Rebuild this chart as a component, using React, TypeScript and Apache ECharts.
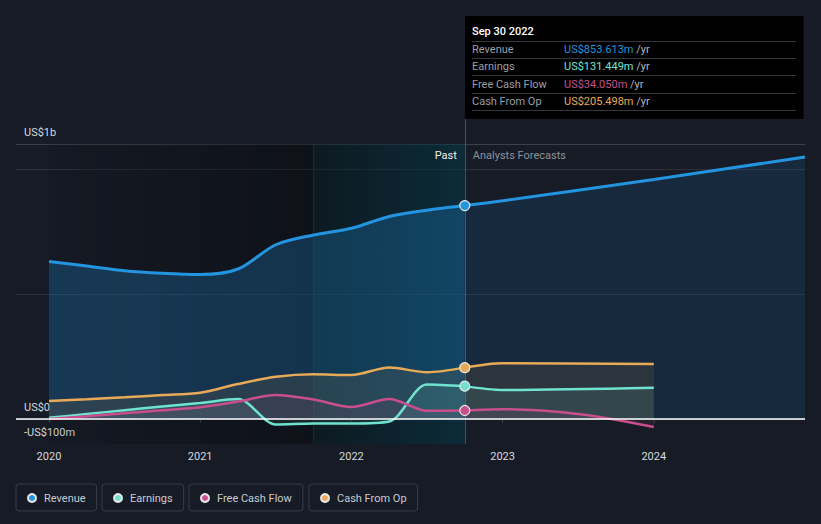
import React, { useEffect, useRef } from 'react';
import * as echarts from 'echarts';

// ---------- data ----------
const yearTicks = [2020, 2021, 2022, 2023, 2024];
const xMin = 2019.782;
const xMax = 2025;

const pastPeriods = [2020, 2020.25, 2020.5, 2020.75, 2021, 2021.25, 2021.5, 2021.75, 2022, 2022.25, 2022.5, 2022.75];
const revenuePast = [630, 612, 593, 583, 578, 600, 697, 736, 763, 810, 835, 853.613];
const earningsPast = [5, 20, 35, 50, 64, 80, -22, -18, -18, -10, 138, 131.449];
const fcfPast = [0, 11, 23, 35, 47, 70, 96, 78, 48, 80, 33, 34.05];
const cfoPast = [72, 79, 87, 96, 105, 140, 169, 179, 176, 206, 187, 205.498];

const revenueForecastPeriods = [2022.75, 2023, 2024, 2025];
const revenueForecast = [853.613, 873, 958, 1048];
const earningsForecastPeriods = [2022.75, 2023, 2024];
const earningsForecast = [131.449, 116, 125];
const fcfForecastPeriods = [2022.75, 2023, 2023.5, 2024];
const fcfForecast = [34.05, 39, 20, -32];
const cfoForecastPeriods = [2022.75, 2023, 2024];
const cfoForecast = [205.498, 223, 220];

const asOfLabel = 'Sep 30 2022';
const asOfPeriod = 2022.75;
const highlightStart = 2021.75;

const yLabels: Record<string, string> = { '-100': '-US$100m', '0': 'US$0', '1100': 'US$1b' };

const seriesNames = ['Revenue', 'Earnings', 'Free Cash Flow', 'Cash From Op'];
const seriesColors = ['#2394df', '#6fe3d0', '#c84f8b', '#e9aa58'];
const legendLefts = [16, 102, 189, 309];

// ---------- helpers ----------
const BG = '#161b26';
const FONT = 'Roboto, "Noto Sans", sans-serif';

function pairs(periods: number[], values: number[], markIndex: number) {
  return periods.map((p, i) => {
    if (i === markIndex) {
      return { value: [p, values[i]], symbol: 'circle', symbolSize: 10 };
    }
    return { value: [p, values[i]] };
  });
}

function lineSeries(name: string, color: string, data: any[], width: number, areaOpacity: number, z: number) {
  return {
    type: 'line',
    name,
    color,
    data,
    smooth: 0.3,
    symbol: 'none',
    showAllSymbol: true,
    z,
    lineStyle: { color, width },
    itemStyle: { color, borderColor: '#e8e8e8', borderWidth: 1.2 },
    areaStyle: { color, opacity: areaOpacity },
    emphasis: { disabled: true },
  };
}

function fmt(v: number) {
  return 'US$' + v.toFixed(3) + 'm';
}

export default function App() {
  const ref = useRef<HTMLDivElement>(null);

  useEffect(() => {
    if (!ref.current) return;
    const chart = echarts.init(ref.current, undefined, { renderer: 'svg' });

    const splitColors: string[] = [];
    for (let v = -100; v <= 1100; v += 100) {
      if (v === 500) splitColors.push('#2a303a');
      else if (v === 1000) splitColors.push('#2c313b');
      else if (v === 1100) splitColors.push('#3b4049');
      else splitColors.push('rgba(0,0,0,0)');
    }

    const pastLast = pastPeriods.length - 1;
    const option: any = {
      animation: false,
      backgroundColor: BG,
      textStyle: { fontFamily: FONT },
      grid: { left: 16, right: 16, top: 144, bottom: 80 },
      xAxis: {
        type: 'value',
        min: xMin,
        max: xMax,
        axisLine: { lineStyle: { color: '#3d424c', width: 1 } },
        axisTick: { show: true, customValues: yearTicks, length: 4, lineStyle: { color: '#3d424c' } },
        axisLabel: {
          customValues: yearTicks,
          color: '#d7dade',
          fontSize: 11,
          fontFamily: FONT,
          margin: 7,
          formatter: (v: number) => String(Math.round(v)),
        },
        splitLine: { show: false },
      },
      yAxis: {
        type: 'value',
        min: -100,
        max: 1100,
        interval: 100,
        axisLine: { show: false },
        axisTick: { show: false },
        axisLabel: {
          inside: true,
          margin: 8,
          color: '#d7dade',
          fontSize: 11,
          fontFamily: FONT,
          verticalAlign: 'bottom',
          padding: [0, 0, 6, 0],
          formatter: (v: number) => yLabels[String(Math.round(v))] || '',
        },
        splitLine: { show: true, lineStyle: { color: splitColors, width: 1 } },
      },
      legend: seriesNames.map((n, i) => ({
        data: [n],
        left: legendLefts[i],
        top: 484,
        icon: 'circle',
        itemWidth: 8,
        itemHeight: 8,
        padding: [7, 11, 6, 11],
        borderColor: '#383d48',
        borderWidth: 1,
        borderRadius: 3,
        selectedMode: false,
        textStyle: { color: '#c7cbd1', fontSize: 11, fontFamily: FONT, padding: [0, 0, 0, 3], lineHeight: 14 },
      })),
      series: [
        {
          type: 'line',
          name: 'bg',
          data: [],
          silent: true,
          markArea: {
            silent: true,
            z: 1,
            data: [
              [
                {
                  xAxis: yearTicks[0],
                  itemStyle: {
                    color: new echarts.graphic.LinearGradient(0, 0, 1, 0, [
                      { offset: 0, color: 'rgba(0,0,0,0.08)' },
                      { offset: 1, color: 'rgba(0,0,0,0.36)' },
                    ]),
                  },
                },
                { xAxis: highlightStart },
              ],
              [
                {
                  xAxis: highlightStart,
                  name: 'Past',
                  label: {
                    show: true,
                    position: 'insideTopRight',
                    distance: 8,
                    offset: [0, -2],
                    color: '#f0f0f0',
                    fontSize: 11,
                    fontFamily: FONT,
                    formatter: 'Past',
                  },
                  itemStyle: {
                    color: new echarts.graphic.LinearGradient(0, 0, 1, 0, [
                      { offset: 0, color: 'rgba(1,26,28,0.45)' },
                      { offset: 1, color: 'rgba(3,58,76,0.52)' },
                    ]),
                  },
                },
                { xAxis: asOfPeriod },
              ],
              [
                {
                  xAxis: asOfPeriod,
                  name: 'Analysts Forecasts',
                  label: {
                    show: true,
                    position: 'insideTopLeft',
                    distance: 8,
                    offset: [0, -2],
                    color: '#8e9299',
                    fontSize: 11,
                    fontFamily: FONT,
                    formatter: 'Analysts Forecasts',
                  },
                  itemStyle: { color: 'rgba(0,0,0,0)' },
                },
                { xAxis: xMax },
              ],
            ],
          },
          markLine: {
            silent: true,
            symbol: 'none',
            z: 2,
            label: { show: false },
            data: [
              { xAxis: highlightStart, lineStyle: { color: 'rgba(255,255,255,0.06)', width: 1, type: 'solid' } },
              { xAxis: asOfPeriod, lineStyle: { color: 'rgba(40,140,170,0.6)', width: 1, type: 'solid' } },
            ],
          },
        },
        {
          type: 'line',
          name: 'zero',
          data: [],
          silent: true,
          z: 6,
          markLine: {
            silent: true,
            symbol: 'none',
            z: 6,
            label: { show: false },
            data: [{ yAxis: 0, lineStyle: { color: '#ffffff', width: 1.5, type: 'solid' } }],
          },
        },
        lineSeries('Revenue', seriesColors[0], pairs(pastPeriods, revenuePast, -1), 3, 0.26, 3),
        lineSeries('Cash From Op', seriesColors[3], pairs(pastPeriods, cfoPast, -1), 2.5, 0.1, 3),
        lineSeries('Earnings', seriesColors[1], pairs(pastPeriods, earningsPast, -1), 2.5, 0.1, 3),
        lineSeries('Free Cash Flow', seriesColors[2], pairs(pastPeriods, fcfPast, -1), 2.5, 0.1, 3),
        lineSeries('Revenue', seriesColors[0], pairs(revenueForecastPeriods, revenueForecast, 0), 3, 0.12, 4),
        lineSeries('Cash From Op', seriesColors[3], pairs(cfoForecastPeriods, cfoForecast, 0), 2.5, 0.1, 4),
        lineSeries('Earnings', seriesColors[1], pairs(earningsForecastPeriods, earningsForecast, 0), 2.5, 0.1, 4),
        lineSeries('Free Cash Flow', seriesColors[2], pairs(fcfForecastPeriods, fcfForecast, 0), 2.5, 0.1, 4),
      ],
    };

    chart.setOption(option);

    const divX = Math.round(chart.convertToPixel({ xAxisIndex: 0 }, asOfPeriod) as number) + 0.5;
    const boxRight = 804;
    const rowsY = [49.5, 66.5, 84, 101];
    const sepY = [41.5, 58.5, 75.5, 93.5, 110.5];
    const values = [revenuePast[pastLast], earningsPast[pastLast], fcfPast[pastLast], cfoPast[pastLast]];
    const graphic: any[] = [
      {
        type: 'line',
        silent: true,
        shape: { x1: divX, y1: 118, x2: divX, y2: 144 },
        style: { stroke: 'rgba(40,140,170,0.6)', lineWidth: 1 },
        z: 5,
      },
      {
        type: 'rect',
        silent: true,
        shape: { x: divX - 0.5, y: 16, width: boxRight - divX, height: 103 },
        style: { fill: '#000000' },
        z: 10,
      },
      {
        type: 'text',
        silent: true,
        x: 472,
        y: 31,
        z: 11,
        style: { text: asOfLabel, fill: '#ffffff', font: `500 11px ${FONT}`, verticalAlign: 'middle' },
      },
    ];
    sepY.forEach((y) => {
      graphic.push({
        type: 'line',
        silent: true,
        z: 11,
        shape: { x1: 472, y1: y, x2: 796, y2: y },
        style: { stroke: '#34373c', lineWidth: 1 },
      });
    });
    seriesNames.forEach((n, i) => {
      graphic.push({
        type: 'text',
        silent: true,
        x: 472,
        y: rowsY[i],
        z: 11,
        style: { text: n, fill: '#9a9ea5', font: `11px ${FONT}`, verticalAlign: 'middle' },
      });
      graphic.push({
        type: 'text',
        silent: true,
        x: 564,
        y: rowsY[i],
        z: 11,
        style: {
          text: `{v|${fmt(values[i])}} {u|/yr}`,
          verticalAlign: 'middle',
          font: `11px ${FONT}`,
          rich: {
            v: { fill: seriesColors[i], fontSize: 11, fontFamily: FONT },
            u: { fill: '#b4b7bc', fontSize: 11, fontFamily: FONT },
          },
        },
      });
    });
    chart.setOption({ graphic });

    return () => chart.dispose();
  }, []);

  return (
    <div
      ref={ref}
      style={{ position: 'fixed', left: 0, top: 0, width: 821, height: 524, background: BG }}
    />
  );
}
